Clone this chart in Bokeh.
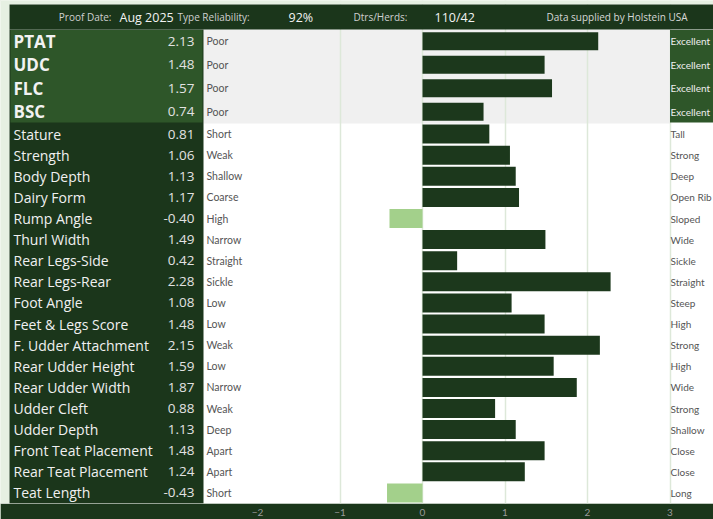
from bokeh.plotting import figure
from bokeh.models import ColumnDataSource, FixedTicker, Range1d, GlobalInlineStyleSheet
from bokeh.core.properties import value
from bokeh.embed import file_html
from bokeh.resources import INLINE

# ---------------- data ----------------
index_traits = ["PTAT", "UDC", "FLC", "BSC"]
index_values = [2.13, 1.48, 1.57, 0.74]
index_low = ["Poor", "Poor", "Poor", "Poor"]
index_high = ["Excellent", "Excellent", "Excellent", "Excellent"]

traits = ["Stature", "Strength", "Body Depth", "Dairy Form", "Rump Angle",
          "Thurl Width", "Rear Legs-Side", "Rear Legs-Rear", "Foot Angle",
          "Feet & Legs Score", "F. Udder Attachment", "Rear Udder Height",
          "Rear Udder Width", "Udder Cleft", "Udder Depth",
          "Front Teat Placement", "Rear Teat Placement", "Teat Length"]
trait_values = [0.81, 1.06, 1.13, 1.17, -0.40, 1.49, 0.42, 2.28, 1.08,
                1.48, 2.15, 1.59, 1.87, 0.88, 1.13, 1.48, 1.24, -0.43]
trait_low = ["Short", "Weak", "Shallow", "Coarse", "High", "Narrow", "Straight",
             "Sickle", "Low", "Low", "Weak", "Low", "Narrow", "Weak", "Deep",
             "Apart", "Apart", "Short"]
trait_high = ["Tall", "Strong", "Deep", "Open Rib", "Sloped", "Wide", "Sickle",
              "Straight", "Steep", "High", "Strong", "High", "Wide", "Strong",
              "Shallow", "Close", "Close", "Long"]

axis_ticks = [-2, -1, 0, 1, 2, 3]
grid_ticks = [-1, 0, 1, 2, 3]

proof_label = "Proof Date:"
proof_date = "Aug 2025"
reliability_label = "Type Reliability:"
reliability = "92%"
dtrs_label = "Dtrs/Herds:"
dtrs_herds = "110/42"
supplier = "Data supplied by Holstein USA"

# ---------------- layout / style ----------------
W, H = 713, 519
AXIS_H = 16
FRAME_H = H - AXIS_H
PANEL_TOP = 4
HEADER_END = 29
TOP_ROW = 23.5
n_top = len(index_traits)
n_bot = len(traits)
TOP_END = HEADER_END + n_top * TOP_ROW
BOT_ROW = (FRAME_H - TOP_END) / n_bot

PX_PER_UNIT = 82.5
ZERO_PX = 422.0


def xpx(px):
    return (px - ZERO_PX) / PX_PER_UNIT


X_START, X_END = xpx(0), xpx(W)
PANEL_LEFT = xpx(9)
PLOT_LEFT = xpx(203)
PLOT_RIGHT = 3.0

DARK = "#1b361b"
MID = "#2e5629"
BAR_POS = "#1c381c"
BAR_NEG = "#a3d08b"
GRAY_BG = "#f0f0f0"
OUTER = "#e6f0e2"

top_y = [HEADER_END + (i + 0.5) * TOP_ROW for i in range(n_top)]
bot_y = [TOP_END + (j + 0.5) * BOT_ROW for j in range(n_bot)]

p = figure(width=W, height=H, x_range=Range1d(X_START, X_END),
           y_range=Range1d(FRAME_H, 0), y_axis_location=None,
           output_backend="svg", toolbar_location=None,
           min_border_left=0, min_border_right=0, min_border_top=0,
           min_border_bottom=AXIS_H, background_fill_color="white",
           border_fill_color=DARK, outline_line_color=None)
p.stylesheets = [GlobalInlineStyleSheet(css="body{background:%s;}" % OUTER)]

# axis and grid
p.xaxis.ticker = FixedTicker(ticks=axis_ticks)
p.xaxis.axis_line_color = None
p.xaxis.major_tick_line_color = None
p.xaxis.minor_tick_line_color = None
p.xaxis.major_tick_out = 0
p.xaxis.major_tick_in = 0
p.xaxis.major_label_standoff = 5
p.xaxis.major_label_text_color = "#9a9a9a"
p.xaxis.major_label_text_font = "Lato"
p.xaxis.major_label_text_font_size = "10px"
p.xgrid.ticker = FixedTicker(ticks=grid_ticks)
p.xgrid.grid_line_color = "#dde8d9"
p.xgrid.grid_line_width = 1.5
p.ygrid.visible = False

# backgrounds
p.quad(left=PLOT_LEFT, right=PLOT_RIGHT, top=HEADER_END, bottom=TOP_END,
       color=GRAY_BG, line_color=None, level="image")
p.quad(left=X_START, right=PANEL_LEFT, top=0, bottom=FRAME_H, color=OUTER, line_color=None)
p.quad(left=X_START, right=X_END, top=0, bottom=PANEL_TOP, color=OUTER, line_color=None)
p.quad(left=PANEL_LEFT, right=X_END, top=PANEL_TOP, bottom=HEADER_END, color=DARK, line_color=None)
p.quad(left=PANEL_LEFT, right=PLOT_LEFT, top=HEADER_END, bottom=FRAME_H, color=DARK, line_color=None)
p.quad(left=xpx(10), right=xpx(202), top=HEADER_END + 0.5, bottom=TOP_END - 1,
       color=MID, line_color=None)
p.quad(left=PLOT_RIGHT, right=X_END, top=HEADER_END + 0.5, bottom=TOP_END - 1,
       color=MID, line_color=None)

# bars
top_src = ColumnDataSource(dict(
    y=top_y, v=index_values, name=index_traits, low=index_low, high=index_high,
    val=["%.2f" % v for v in index_values],
    c=[BAR_POS if v >= 0 else BAR_NEG for v in index_values]))
bot_src = ColumnDataSource(dict(
    y=bot_y, v=trait_values, name=traits, low=trait_low, high=trait_high,
    val=["%.2f" % v for v in trait_values],
    c=[BAR_POS if v >= 0 else BAR_NEG for v in trait_values]))

p.hbar(y="y", left=0, right="v", height=18, color="c", line_color=None, source=top_src)
p.hbar(y="y", left=0, right="v", height=BOT_ROW * 0.9, color="c", line_color=None, source=bot_src)

# left labels
p.text(x=xpx(13), y="y", text="name", source=top_src, text_baseline="middle",
       text_font=value("Open Sans"), text_font_style="bold",
       text_font_size="17px", text_color="#f2f2f2")
p.text(x=xpx(194), y="y", text="val", source=top_src, text_baseline="middle",
       text_align="right", text_font=value("Open Sans"),
       text_font_size="13.5px", text_color="#e2e2e2")
p.text(x=xpx(13), y="y", text="name", source=bot_src, text_baseline="middle",
       text_font=value("Open Sans"), text_font_size="14px", text_color="#f0f0f0")
p.text(x=xpx(194), y="y", text="val", source=bot_src, text_baseline="middle",
       text_align="right", text_font=value("Open Sans"),
       text_font_size="13.5px", text_color="#e2e2e2")

# low / high descriptors
for src, hc in ((top_src, "#eeeeee"), (bot_src, "#555555")):
    p.text(x=xpx(206), y="y", text="low", source=src, text_baseline="middle",
           text_font=value("Lato"), text_font_size="10.5px", text_color="#555555")
    p.text(x=xpx(670), y="y", text="high", source=src, text_baseline="middle",
           text_font=value("Lato"), text_font_size="10px", text_color=hc)

# header
hy = (PANEL_TOP + HEADER_END) / 2
p.text(x=[xpx(111)], y=[hy], text=[proof_label], text_align="right",
       text_baseline="middle", text_font=value("Open Sans"),
       text_font_size="10px", text_color="#d0d0d0")
p.text(x=[xpx(119)], y=[hy], text=[proof_date], text_baseline="middle",
       text_font=value("Open Sans"), text_font_size="12.5px", text_color="#f2f2f2")
p.text(x=[xpx(177)], y=[hy], text=[reliability_label], text_baseline="middle",
       text_font=value("Open Sans"), text_font_size="10px", text_color="#d0d0d0")
p.text(x=[xpx(288)], y=[hy], text=[reliability], text_baseline="middle",
       text_font=value("Open Sans"), text_font_size="12.5px", text_color="#f2f2f2")
p.text(x=[xpx(353)], y=[hy], text=[dtrs_label], text_baseline="middle",
       text_font=value("Open Sans"), text_font_size="10px", text_color="#d0d0d0")
p.text(x=[xpx(434)], y=[hy], text=[dtrs_herds], text_baseline="middle",
       text_font=value("Open Sans"), text_font_size="12.5px", text_color="#f2f2f2")
p.text(x=[xpx(546)], y=[hy], text=[supplier], text_baseline="middle",
       text_font=value("Open Sans"), text_font_size="10px", text_color="#d8d8d8")

open("out.html", "w").write(file_html(p, INLINE))
